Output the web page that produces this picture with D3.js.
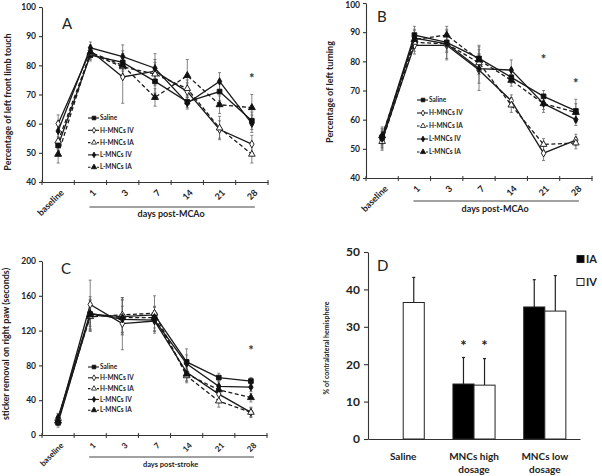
<!DOCTYPE html>
<html>
<head>
<meta charset="utf-8">
<script src="https://cdn.jsdelivr.net/npm/d3@7"></script>
<style>
body { margin: 0; background: #fff; }
svg text { font-family: Lato, "Open Sans", sans-serif; fill: #222; }
</style>
</head>
<body>
<div id="chart"></div>
<script>
// categories
var days = ["baseline", "1", "3", "7", "14", "21", "28"];
var groups = ["Saline", "H-MNCs IV", "H-MNCs IA", "L-MNCs IV", "L-MNCs IA"];

// panel A: left front limb touch (%)
var touchMean = [
    [52.5, 83.5, 81, 74.5, 67.5, 71, 61],
    [60, 85, 76, 78, 71, 58, 53],
    [54, 84, 79.5, 77, 72, 58.5, 49.5],
    [57.5, 86, 83, 79, 67, 74.5, 60],
    [49.5, 84.5, 80, 69, 76.5, 66.5, 65.5]
];
var touchErr = [
    [3, 2, 3, 4, 2, 3, 3],
    [3, 2, 9, 4, 3, 3, 3],
    [3, 2, 3, 4, 3, 4, 3],
    [3, 2, 4, 5, 2, 3, 3],
    [3, 2, 3, 3, 5.5, 3, 4.5]
];
var touchTicks = [40, 50, 60, 70, 80, 90, 100];
var touchStars = [["28", 76]];

// panel B: left turning (%)
var turnMean = [
    [54, 89, 86.5, 81, 74.5, 68, 63],
    [53, 85.5, 85.5, 77, 66.5, 48.5, 53],
    [52.5, 86.5, 86, 79.5, 65, 51.5, 52],
    [53.5, 88, 86, 77.5, 77, 65.5, 60],
    [54.5, 87.5, 89, 80.5, 73.5, 65.5, 62.5]
];
var turnErr = [
    [3, 3, 3, 4, 2, 2, 4],
    [3, 3, 5, 7, 2, 2.5, 2],
    [3, 3, 3, 3, 2.5, 2, 2],
    [3, 3, 5, 5, 3.5, 2, 2],
    [3, 3, 3, 5, 2, 3, 3]
];
var turnTicks = [40, 50, 60, 70, 80, 90, 100];
var turnStars = [["21", 81], ["28", 73]];

// panel C: sticker removal (seconds)
var stickerMean = [
    [14, 139, 136, 138, 84, 66, 62],
    [17, 150, 128, 131, 72, 47, 26],
    [19, 136, 138, 140, 68, 39, 26],
    [20, 140, 133, 132, 82, 56, 55],
    [16, 138, 135, 135, 70, 52, 43]
];
var stickerErr = [
    [5, 20, 20, 10, 15, 5, 4],
    [5, 28, 30, 12, 10, 8, 6],
    [5, 15, 20, 20, 8, 7, 5],
    [5, 15, 15, 15, 10, 6, 5],
    [5, 18, 20, 12, 8, 6, 5]
];
var stickerTicks = [0, 40, 80, 120, 160, 200];
var stickerStars = [["28", 99]];

// panel D: infarct volume
var dCats = ["Saline", "MNCs high dosage", "MNCs low dosage"];
var dLabels = [["Saline"], ["MNCs high", "dosage"], ["MNCs low", "dosage"]];
var routes = ["IA", "IV"];
var dIA = [null, 14.7, 35.3];
var dIAErr = [null, 7.1, 7.3];
var dIV = [36.5, 14.4, 34.2];
var dIVErr = [6.7, 7.1, 9.5];
var dTicks = [0, 10, 20, 30, 40, 50];
var dStars = [[1, "IA", 25.4], [1, "IV", 25.4]];

// line / marker styles per group
var styles = [
    { dash: null, sym: d3.symbolSquare, size: 22, fill: "#111" },
    { dash: null, sym: d3.symbolDiamond, size: 17, fill: "#fff" },
    { dash: "4,2.5", sym: d3.symbolTriangle, size: 19, fill: "#fff" },
    { dash: null, sym: d3.symbolDiamond, size: 16, fill: "#111" },
    { dash: "4,2.5", sym: d3.symbolTriangle, size: 21, fill: "#111" }
];

var svg = d3.select("#chart").append("svg")
    .attr("width", 602)
    .attr("height", 476);

function linePanel(o) {
    var g = svg.append("g");
    var x = d3.scaleBand().domain(days).range([o.x0, o.x1]);
    var y = d3.scaleLinear()
        .domain([o.ticks[0], o.ticks[o.ticks.length - 1]])
        .range([o.yb, o.yt]);
    var cx = function(d) { return x(d) + x.bandwidth() / 2; };

    // y axis
    var ya = g.append("g")
        .attr("transform", "translate(" + o.x0 + ",0)")
        .call(d3.axisLeft(y).tickValues(o.ticks).tickSize(3).tickSizeOuter(0).tickPadding(3));
    ya.selectAll("text").style("font-size", "8.5px").style("font-weight", "bold");
    ya.selectAll("path,line").attr("stroke", "#333").attr("stroke-width", 1.1);
    if (o.topDy) {
        ya.selectAll(".tick text").filter(function(d) { return d === o.ticks[o.ticks.length - 1]; })
            .attr("dy", o.topDy);
    }

    // x axis
    var xa = g.append("g")
        .attr("transform", "translate(0," + o.yb + ")")
        .call(d3.axisBottom(x).tickSize(0).tickSizeOuter(0));
    xa.select(".domain").attr("stroke", "#333").attr("stroke-width", 1.1);
    xa.selectAll("text")
        .attr("x", 0).attr("y", 0).attr("dy", "0.35em")
        .attr("text-anchor", "end")
        .attr("transform", "translate(4,9) rotate(-45)")
        .style("font-size", o.xFont + "px").style("font-weight", "bold");

    // boundary ticks between categories
    g.selectAll(".bt")
        .data(days.concat(["end"]))
        .enter().append("line")
        .attr("x1", function(d) { return d === "end" ? o.x1 : x(d); })
        .attr("x2", function(d) { return d === "end" ? o.x1 : x(d); })
        .attr("y1", o.yb - 2).attr("y2", o.yb + 3)
        .attr("stroke", "#333").attr("stroke-width", 1);

    // line under post-stroke days
    g.append("line")
        .attr("x1", cx("1") - 1).attr("x2", cx("28") + 3)
        .attr("y1", o.lineY).attr("y2", o.lineY)
        .attr("stroke", "#444").attr("stroke-width", 1.2);
    g.append("text")
        .attr("x", (cx("1") + cx("28")) / 2).attr("y", o.lineY + o.daysDy)
        .attr("text-anchor", "middle")
        .style("font-size", o.daysFont + "px").style("font-weight", "bold")
        .text(o.daysLabel);

    // y title
    g.append("text")
        .attr("transform", "translate(" + o.titleX + "," + o.titleY + ") rotate(-90)")
        .attr("text-anchor", "middle")
        .style("font-size", o.titleFont + "px").style("font-weight", "bold")
        .text(o.title);

    // panel letter
    g.append("text")
        .attr("x", o.letterX).attr("y", o.letterY)
        .style("font-size", "15px")
        .text(o.letter);

    // error bars
    o.mean.forEach(function(series, s) {
        series.forEach(function(v, i) {
            var e = o.err[s][i];
            var xx = cx(days[i]);
            g.append("line")
                .attr("x1", xx).attr("x2", xx)
                .attr("y1", y(v - e)).attr("y2", y(v + e))
                .attr("stroke", "#666").attr("stroke-width", 0.8);
            [v - e, v + e].forEach(function(c) {
                g.append("line")
                    .attr("x1", xx - 1.5).attr("x2", xx + 1.5)
                    .attr("y1", y(c)).attr("y2", y(c))
                    .attr("stroke", "#666").attr("stroke-width", 0.8);
            });
        });
    });

    // lines and markers
    var line = d3.line()
        .x(function(d, i) { return cx(days[i]); })
        .y(function(d) { return y(d); });
    o.mean.forEach(function(series, s) {
        var st = styles[s];
        g.append("path")
            .datum(series)
            .attr("d", line)
            .attr("fill", "none")
            .attr("stroke", "#1a1a1a")
            .attr("stroke-width", 1.3)
            .attr("stroke-dasharray", st.dash);
        g.selectAll(".m" + s)
            .data(series)
            .enter().append("path")
            .attr("transform", function(d, i) { return "translate(" + cx(days[i]) + "," + y(d) + ")"; })
            .attr("d", d3.symbol().type(st.sym).size(st.size))
            .attr("fill", st.fill)
            .attr("stroke", "#111")
            .attr("stroke-width", 0.9);
    });

    // significance stars
    o.stars.forEach(function(s) {
        g.append("text")
            .attr("x", cx(s[0])).attr("y", y(s[1]) + 6)
            .attr("text-anchor", "middle")
            .style("font-size", "13px").style("font-weight", "bold")
            .style("fill", "#333")
            .text("*");
    });

    // legend
    groups.forEach(function(name, s) {
        var st = styles[s];
        var ly = o.legY + s * o.legDy;
        g.append("line")
            .attr("x1", o.legX).attr("x2", o.legX + 11)
            .attr("y1", ly).attr("y2", ly)
            .attr("stroke", "#1a1a1a").attr("stroke-width", 1.1)
            .attr("stroke-dasharray", st.dash ? "2.5,2" : null);
        g.append("path")
            .attr("transform", "translate(" + (o.legX + 6) + "," + ly + ")")
            .attr("d", d3.symbol().type(st.sym).size(st.size * 0.6))
            .attr("fill", st.fill).attr("stroke", "#111").attr("stroke-width", 0.8);
        g.append("text")
            .attr("x", o.legX + 12).attr("y", ly).attr("dy", "0.35em")
            .style("font-size", "6.5px").style("font-weight", "bold")
            .text(name);
    });
}

linePanel({
    mean: touchMean, err: touchErr, ticks: touchTicks, stars: touchStars,
    x0: 42, x1: 268, yb: 182, yt: 7,
    xFont: 9, lineY: 207, daysDy: 10, daysFont: 9, daysLabel: "days post-MCAo",
    title: "Percentage of left front limb touch", titleX: 11, titleY: 102, titleFont: 9,
    letter: "A", letterX: 62, letterY: 29,
    legX: 88, legY: 118, legDy: 12.3
});

linePanel({
    mean: turnMean, err: turnErr, ticks: turnTicks, stars: turnStars,
    x0: 366, x1: 592, yb: 178, yt: 3,
    xFont: 9, lineY: 201, daysDy: 11, daysFont: 9, daysLabel: "days post-MCAo",
    title: "Percentage of  left turning", titleX: 333, titleY: 92, titleFont: 9,
    letter: "B", letterX: 377, letterY: 22,
    legX: 417, legY: 100, legDy: 13, topDy: "0.55em"
});

linePanel({
    mean: stickerMean, err: stickerErr, ticks: stickerTicks, stars: stickerStars,
    x0: 42, x1: 267, yb: 435, yt: 261,
    xFont: 8, lineY: 457, daysDy: 10, daysFont: 7.5, daysLabel: "days post-stroke",
    title: "sticker removal on right paw (seconds)", titleX: 9, titleY: 344, titleFont: 9,
    letter: "C", letterX: 61, letterY: 274,
    legX: 88, legY: 367, legDy: 10.8
});

// panel D: grouped bars
(function() {
    var g = svg.append("g");
    var x0 = d3.scaleBand().domain(dCats).range([368, 580]).paddingInner(0.405).paddingOuter(0.2);
    var x1 = d3.scaleBand().domain(routes).range([0, x0.bandwidth()]);
    var y = d3.scaleLinear().domain([0, 50]).range([439, 252]);

    var ya = g.append("g")
        .attr("transform", "translate(368,0)")
        .call(d3.axisLeft(y).tickValues(dTicks).tickSize(4).tickSizeOuter(0).tickPadding(4));
    ya.selectAll("text").style("font-size", "12px").style("font-weight", "bold");
    ya.selectAll("path,line").attr("stroke", "#333").attr("stroke-width", 1.1);

    var xa = g.append("g")
        .attr("transform", "translate(0,439)")
        .call(d3.axisBottom(x0).tickSize(0).tickSizeOuter(0).tickFormat(""));
    xa.select(".domain").attr("stroke", "#333").attr("stroke-width", 1.1);

    dLabels.forEach(function(lines, i) {
        lines.forEach(function(t, k) {
            g.append("text")
                .attr("x", x0(dCats[i]) + x0.bandwidth() / 2)
                .attr("y", 460 + k * 12.5)
                .attr("text-anchor", "middle")
                .style("font-size", "10px").style("font-weight", "bold")
                .text(t);
        });
    });

    var series = [
        { key: "IA", vals: dIA, err: dIAErr, fill: "#000" },
        { key: "IV", vals: dIV, err: dIVErr, fill: "#fff" }
    ];
    series.forEach(function(s) {
        s.vals.forEach(function(v, i) {
            if (v === null) return;
            var bx = x0(dCats[i]) + x1(s.key);
            var mid = bx + x1.bandwidth() / 2;
            var top = y(v + s.err[i]);
            g.append("line")
                .attr("x1", mid).attr("x2", mid)
                .attr("y1", y(v)).attr("y2", top)
                .attr("stroke", "#222").attr("stroke-width", 1.2);
            g.append("line")
                .attr("x1", mid - 1.5).attr("x2", mid + 1.5)
                .attr("y1", top).attr("y2", top)
                .attr("stroke", "#222").attr("stroke-width", 1.2);
            g.append("rect")
                .attr("x", bx).attr("y", y(v))
                .attr("width", x1.bandwidth())
                .attr("height", y(0) - y(v))
                .attr("fill", s.fill)
                .attr("stroke", "#222").attr("stroke-width", 1);
        });
    });

    dStars.forEach(function(s) {
        g.append("text")
            .attr("x", x0(dCats[s[0]]) + x1(s[1]) + x1.bandwidth() / 2)
            .attr("y", y(s[2]) + 7)
            .attr("text-anchor", "middle")
            .style("font-size", "15px").style("font-weight", "bold")
            .text("*");
    });

    g.append("text")
        .attr("transform", "translate(329,348) rotate(-90)")
        .attr("text-anchor", "middle")
        .style("font-size", "7px").style("font-weight", "bold")
        .text("% of contralateral hemisphere");

    g.append("text")
        .attr("x", 377).attr("y", 271)
        .style("font-size", "15px")
        .text("D");

    routes.forEach(function(r, i) {
        var ly = 259 + i * 23;
        g.append("rect")
            .attr("x", 577).attr("y", ly - 3.5)
            .attr("width", 7).attr("height", 7)
            .attr("fill", r === "IA" ? "#000" : "#fff")
            .attr("stroke", "#222").attr("stroke-width", 1);
        g.append("text")
            .attr("x", 586).attr("y", ly).attr("dy", "0.36em")
            .style("font-size", "11px").style("font-weight", "bold")
            .text(r);
    });
})();
</script>
</body>
</html>
